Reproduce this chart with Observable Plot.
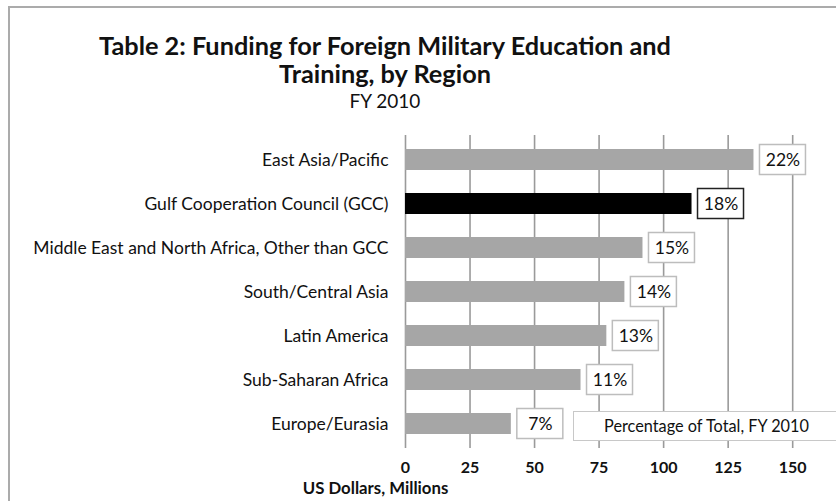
<!DOCTYPE html>
<html><head><meta charset="utf-8">
<script src="https://cdn.jsdelivr.net/npm/d3@7"></script>
<script src="https://cdn.jsdelivr.net/npm/@observablehq/plot@0.6"></script>
<style>
html,body{margin:0;padding:0;background:#fff;overflow:hidden;}
#wrap{position:relative;width:836px;height:501px;overflow:hidden;font-family:Lato,"Open Sans",sans-serif;color:#111;}
#frame{position:absolute;left:8px;top:6px;right:-10px;bottom:-10px;border-left:2px solid #ababab;border-top:2px solid #ababab;}
.t{position:absolute;left:0;width:770px;text-align:center;white-space:nowrap;}
#t1{top:30px;font-size:25.3px;font-weight:bold;line-height:30px;}
#t2{top:58px;font-size:25.3px;font-weight:bold;line-height:30px;}
#t3{top:89px;font-size:19px;line-height:24px;}
#chart{position:absolute;left:0;top:125px;}
#legend{position:absolute;left:573px;top:411px;width:265px;height:28px;border:1px solid #c8c8c8;background:#fff;font-size:16.3px;line-height:28px;text-align:center;z-index:2;}
</style>
</head><body>
<div id="wrap">
  <div id="frame"></div>
  <div class="t" id="t1"></div>
  <div class="t" id="t2"></div>
  <div class="t" id="t3"></div>
  <div id="chart"></div>
  <div id="legend"></div>
</div>
<script>
const titleLines = ["Table 2: Funding for Foreign Military Education and", "Training, by Region"];
const subtitle = "FY 2010";
const categories = [
  "East Asia/Pacific",
  "Gulf Cooperation Council (GCC)",
  "Middle East and North Africa, Other than GCC",
  "South/Central Asia",
  "Latin America",
  "Sub-Saharan Africa",
  "Europe/Eurasia"
];
const funding = [135, 111, 92, 85, 78, 68, 41];
const shares = ["22%", "18%", "15%", "14%", "13%", "11%", "7%"];
const highlighted = "Gulf Cooperation Council (GCC)";
const xTicks = [0, 25, 50, 75, 100, 125, 150];
const xTitle = "US Dollars, Millions";
const legendLabel = "Percentage of Total, FY 2010";

document.getElementById("t1").textContent = titleLines[0];
document.getElementById("t2").textContent = titleLines[1];
document.getElementById("t3").textContent = subtitle;
document.getElementById("legend").textContent = legendLabel;

const data = categories.map((c, i) => ({category: c, value: funding[i], share: shares[i]}));

const chart = Plot.plot({
  width: 836, height: 376,
  marginLeft: 405, marginRight: 18, marginTop: 10, marginBottom: 53,
  style: {fontFamily: "Lato, 'Open Sans', sans-serif", background: "transparent", color: "#111"},
  x: {domain: [0, 160]},
  y: {domain: categories, paddingInner: 0.53, paddingOuter: 0.265, align: 0.5},
  color: {type: "identity"},
  marks: [
    Plot.ruleX(xTicks, {stroke: "#9a9a9a", strokeWidth: 1.6}),
    Plot.barX(data, {x: "value", y: "category", fill: d => d.category === highlighted ? "#000" : "#a6a6a6"}),
    Plot.barX(data, {x1: "value", x2: "value", y: "category", dx: 29,
      insetLeft: -23, insetRight: -23, insetTop: -4.5, insetBottom: -4.5,
      fill: "#fff", stroke: d => d.category === highlighted ? "#222" : "#bdbdbd", strokeWidth: 1.5}),
    Plot.text(data, {x: "value", y: "category", dx: 29, text: "share", fontSize: 17.5, fill: "#111"}),
    Plot.axisX({ticks: xTicks, tickSize: 0, tickPadding: 13, fontSize: 16, fontWeight: "bold", label: null}),
    Plot.axisY({tickSize: 0, tickPadding: 17, fontSize: 17.5, label: null}),
    Plot.text([xTitle], {text: d => d, frameAnchor: "bottom-left", textAnchor: "middle", dx: -30, dy: 45, fontSize: 16.8, fontWeight: "bold", fill: "#111"})
  ]
});
document.getElementById("chart").appendChild(chart);
</script>
</body></html>
